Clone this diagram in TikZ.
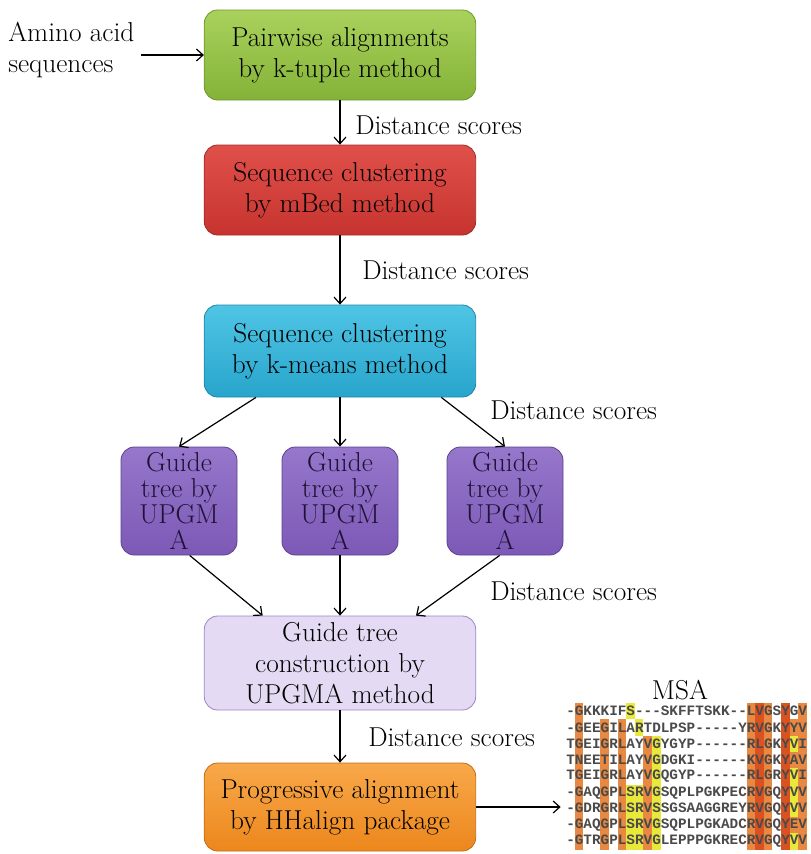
\documentclass[tikz,border=0pt]{standalone}
\usepackage{fontspec}
\newfontfamily\msafont[Ligatures=TeXOff]{Liberation Mono}
\usetikzlibrary{arrows.meta}

\definecolor{grntop}{HTML}{A9D25C}
\definecolor{grnbot}{HTML}{84B238}
\definecolor{grnline}{HTML}{6C982C}
\definecolor{redtop}{HTML}{E0504A}
\definecolor{redbot}{HTML}{C73430}
\definecolor{redline}{HTML}{A32A27}
\definecolor{blutop}{HTML}{4FC5E5}
\definecolor{blubot}{HTML}{28A5CC}
\definecolor{bluline}{HTML}{1F88A8}
\definecolor{purtop}{HTML}{9677CB}
\definecolor{purbot}{HTML}{7C59B6}
\definecolor{purline}{HTML}{5C418E}
\definecolor{purtext}{HTML}{1E1236}
\definecolor{lavfill}{HTML}{E4DAF3}
\definecolor{lavline}{HTML}{9C86C4}
\definecolor{orgtop}{HTML}{F8A84A}
\definecolor{orgbot}{HTML}{EC871C}
\definecolor{orgline}{HTML}{C66C12}
\definecolor{msaorange}{HTML}{E98840}
\definecolor{msared}{HTML}{D9521F}
\definecolor{msayellow}{HTML}{E9E93C}
\definecolor{msatext}{HTML}{4A4A4A}

\begin{document}
\begin{tikzpicture}[x=0.75pt, y=-0.75pt,
    font=\fontsize{20.5}{23}\selectfont,
    box/.style={draw, rounded corners=10pt, line width=0.6pt, align=center,
      minimum width=203.5pt, minimum height=67.5pt, inner sep=2pt},
    tree/.style={box, minimum width=87pt, minimum height=81pt,
      font=\fontsize{20.5}{19.5}\selectfont,
      top color=purtop, bottom color=purbot, draw=purline, text=purtext},
    lbl/.style={anchor=west, inner sep=0pt},
    arr/.style={-{Straight Barb[length=5pt,width=9pt]}, line width=0.9pt},
    msarow/.style={anchor=west, inner sep=0pt, text=msatext,
      font=\msafont\bfseries\fontsize{10.75}{12}\selectfont}]
  \useasboundingbox (0,0) rectangle (811,854);

  \node[lbl, align=left] (input) at (8,50) {Amino acid\\sequences};
  \node[box, top color=grntop, bottom color=grnbot, draw=grnline] (pair) at (340,55) {Pairwise alignments\\by k-tuple method};
  \node[box, top color=redtop, bottom color=redbot, draw=redline] (mbed) at (340,190) {Sequence clustering\\by mBed method};
  \node[box, top color=blutop, bottom color=blubot, draw=bluline, minimum height=69pt] (kmeans) at (340,351) {Sequence clustering\\by k-means method};
  \foreach \i/\x in {1/179,2/340,3/505}
    \node[tree] (upgma\i) at (\x,501) {Guide\\tree by\\UPGM\\A};
  \node[box, fill=lavfill, draw=lavline, minimum height=70.5pt] (guide) at (340,663) {Guide tree\\construction by\\UPGMA method};
  \node[box, top color=orgtop, bottom color=orgbot, draw=orgline, minimum height=66pt] (prog) at (340,807) {Progressive alignment\\by HHalign package};

  % distance labels
  \foreach \i/\x/\y in {1/355/125,2/362/270,3/490/410,4/490/591,5/368/737}
    \node[lbl] (dist\i) at (\x,\y) {Distance scores};

  % alignment picture
  \node (msa) at (680,690) {MSA};
  \foreach \r/\oc/\rc/\yc in {1/{2,22,24,28}/{23,26}/{8},
      2/{2,5,7,22,24,27,28}/{23,26}/{9},
      3/{2,5,7,10,22,24,28}/{23,26}/{11,27},
      4/{2,5,7,10,22,24,27,28}/{23,26}/{11},
      5/{2,5,7,10,22,24,28}/{23,26}/{11,27},
      6/{2,5,7,10,22,24,28}/{23,26}/{8,9,11,27},
      7/{2,5,7,10,22,24,28}/{23,26}/{8,9,11,27},
      8/{2,5,7,10,22,24,27,28}/{23,26}/{8,9,11},
      9/{2,5,7,10,22,24,28}/{23,26}/{8,9,11,27}} {
    \foreach \c in \oc
      \fill[msaorange] ({566+(\c-1)*8.6},{703+(\r-1)*16.3}) rectangle ++(8.6,16.3);
    \foreach \c in \rc
      \fill[msared] ({566+(\c-1)*8.6},{703+(\r-1)*16.3}) rectangle ++(8.6,16.3);
    \foreach \c in \yc
      \fill[msayellow] ({566+(\c-1)*8.6},{703+(\r-1)*16.3}) rectangle ++(8.6,16.3);
  }
  \foreach \r/\seq in {1/-GKKKIFS---SKFFTSKK--LVGSYGV,
      2/-GEEGILARTDLPSP-----YRVGKYYV,
      3/TGEIGRLAYVGYGYP------RLGKYVI,
      4/TNEETILAYVGDGKI------KVGKYAV,
      5/TGEIGRLAYVGQGYP------RLGRYVI,
      6/-GAQGPLSRVGSQPLPGKPECRVGQYVV,
      7/-GDRGRLSRVSSGSAAGGREYRVGQYVV,
      8/-GAQGPLSRVGSQPLPGKADCRVGQYEV,
      9/-GTRGPLSRVGLEPPPGKRECRVGQYVV}
    \node[msarow] (row\r) at (566,{703+(\r-0.5)*16.3}) {\seq};

  \draw[arr, shorten <=5pt] (input.east |- pair.west) -- (pair.west);
  \draw[arr] (pair) -- (mbed);
  \draw[arr] (mbed) -- (kmeans);
  \draw[arr] ([xshift=-63pt]kmeans.south) -- (upgma1.north);
  \draw[arr] (kmeans) -- (upgma2);
  \draw[arr] ([xshift=76pt]kmeans.south) -- (upgma3.north);
  \draw[arr] ([xshift=8pt]upgma1.south) -- ([xshift=-58pt]guide.north);
  \draw[arr] (upgma2) -- (guide);
  \draw[arr] ([xshift=-4pt]upgma3.south) -- ([xshift=57pt]guide.north);
  \draw[arr] (guide) -- (prog);
  \draw[arr, shorten >=4pt] (prog.east) -- (prog.east -| row7.west);
\end{tikzpicture}
\end{document}
